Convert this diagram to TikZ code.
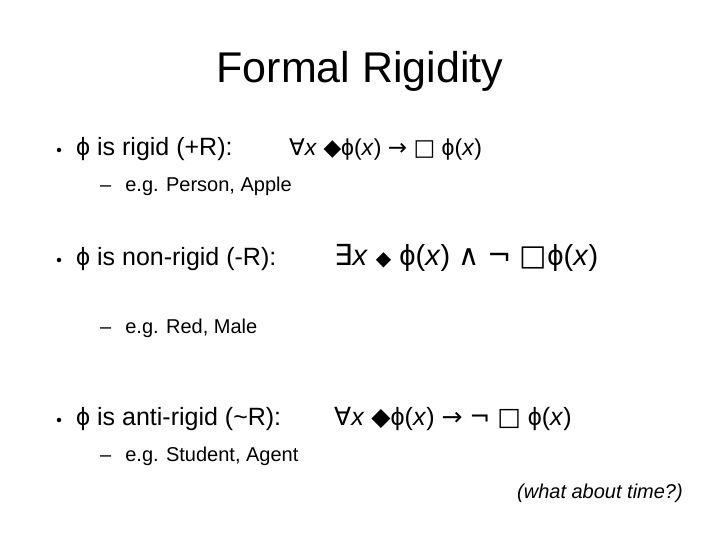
\documentclass[tikz,border=0pt]{standalone}
\usepackage{fontspec}
\setmainfont{Liberation Sans}
\newfontfamily\symf{DejaVu Sans}
\begin{document}
\begin{tikzpicture}[x=1pt,y=1pt,
  txt/.style={anchor=base west,inner sep=0pt,font=\fontsize{23}{26}\selectfont},
  lab/.style={anchor=base west,inner sep=0pt,font=\fontsize{25}{28}\selectfont},
  sub/.style={anchor=base west,inner sep=0pt,font=\fontsize{20}{24}\selectfont},
  dot/.style={circle,fill,inner sep=0pt,minimum size=4.5pt}]
\useasboundingbox (0,0) rectangle (720,540);
\node[anchor=base,inner sep=0pt,font=\fontsize{43}{46}\selectfont] (title) at (360,457) {Formal Rigidity};
% line 1
\node[dot] (b1) at (59,390) {};
\node[lab] (l1) at (76,384) {ϕ is rigid (+R):};
\node[txt] (f1) at (289,384) {{\symf ∀}\textit{x} {\symf◆}ϕ(\textit{x}) {\symf→} {\symf□} ϕ(\textit{x})};
\node[sub] (s1) at (100,348) {–\hspace{14pt}e.g. Person, Apple};
% line 2
\node[dot] (b2) at (59,280) {};
\node[lab] (l2) at (76,274) {ϕ is non-rigid (-R):};
\node[anchor=base west,inner sep=0pt,font=\fontsize{29}{32}\selectfont] (f2) at (334,274) {{\symf ∃}\textit{x} {\fontsize{20}{20}\selectfont\symf◆} ϕ(\textit{x}) {\symf∧} {\symf¬} {\symf□}ϕ(\textit{x})};
\node[sub] (s2) at (100,206) {–\hspace{14pt}e.g. Red, Male};
% line 3
\node[dot] (b3) at (59,120) {};
\node[lab] (l3) at (76,114) {ϕ is anti-rigid (\textasciitilde R):};
\node[anchor=base west,inner sep=0pt,font=\fontsize{25}{28}\selectfont] (f3) at (334,114) {{\symf ∀}\textit{x} {\symf◆}ϕ(\textit{x}) {\symf→} {\symf¬} {\symf□} ϕ(\textit{x})};
\node[sub] (s3) at (100,78) {–\hspace{14pt}e.g. Student, Agent};
\node[anchor=base east,inner sep=0pt,font=\fontsize{20}{24}\selectfont\itshape] (q) at (683,41) {(what about time?)};
\end{tikzpicture}
\end{document}
